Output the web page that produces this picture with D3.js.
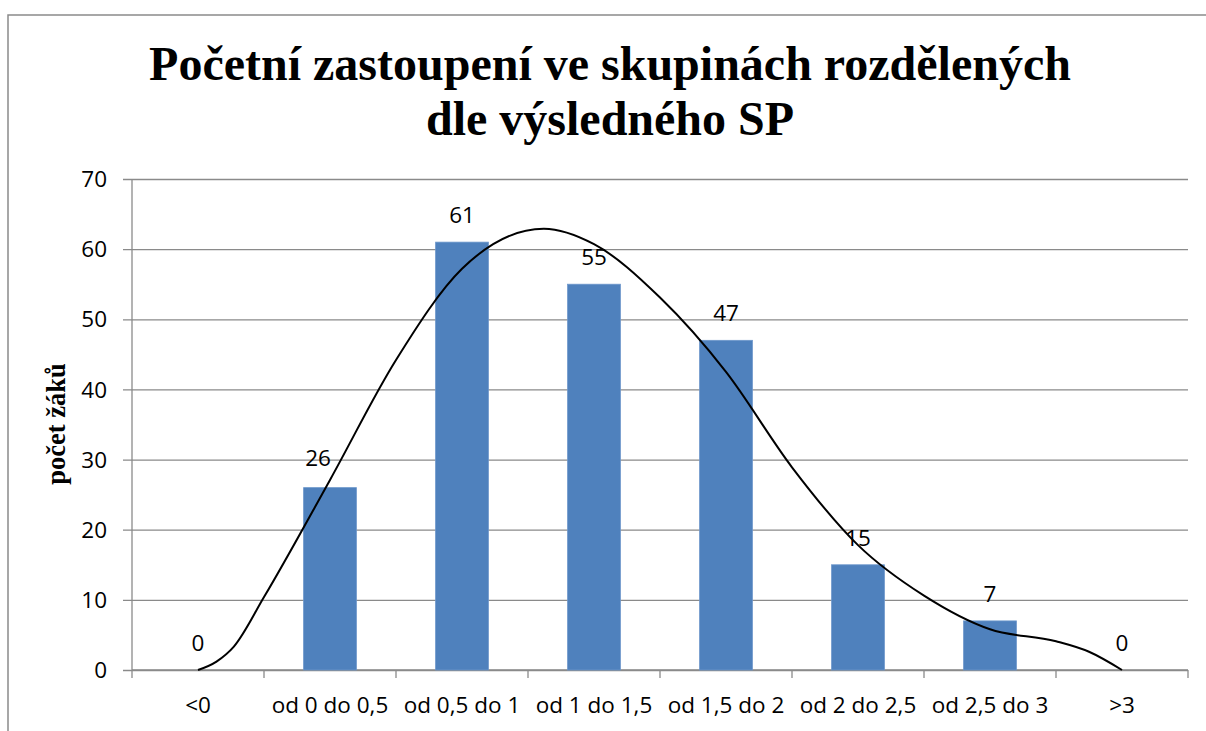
<!DOCTYPE html>
<html>
<head>
<meta charset="utf-8">
<script src="https://cdn.jsdelivr.net/npm/d3@7"></script>
<style>
  html, body { margin: 0; padding: 0; background: #fff; }
  svg { display: block; }
</style>
</head>
<body>
<svg id="chart" width="1206" height="731"></svg>
<script>
// ---- data ----
const categories = ["<0", "od 0 do 0,5", "od 0,5 do 1", "od 1 do 1,5", "od 1,5 do 2", "od 2 do 2,5", "od 2,5 do 3", ">3"];
const counts = [0, 26, 61, 55, 47, 15, 7, 0];
const yTicks = [0, 10, 20, 30, 40, 50, 60, 70];
// smooth curve: position in category units (0 = first category centre) and value
const curvePos = [0, 0.14, 0.27, 0.5, 1, 1.5, 2, 2.62, 3, 3.5, 4, 4.5, 5, 5.5, 6, 6.5, 6.75, 7];
const curveVal = [0, 1.2, 3.3, 10.4, 27.1, 44.2, 57.2, 62.9, 60.7, 53.1, 42.5, 28.9, 17.8, 10.6, 5.8, 4.1, 2.6, 0];
const titleLines = ["Početní zastoupení ve skupinách rozdělených", "dle výsledného SP"];
const yTitle = "počet žáků";

// ---- layout ----
const svg = d3.select("#chart");
const plot = { left: 132, right: 1188, top: 179, bottom: 670 };
const gridColor = "#8a8a8a";
const labelFont = "'Open Sans', sans-serif";

// chart frame
svg.append("rect")
  .attr("x", 8).attr("y", 15)
  .attr("width", 1220).attr("height", 740)
  .attr("fill", "none").attr("stroke", "#8a8a8a").attr("stroke-width", 1.5);

const x = d3.scaleBand().domain(categories).range([plot.left, plot.right])
  .paddingInner(0.6).paddingOuter(0.3);
const y = d3.scaleLinear().domain([0, 70]).range([plot.bottom, plot.top]);
const xc = d3.scaleLinear().domain([0, categories.length - 1])
  .range([x(categories[0]) + x.bandwidth() / 2, x(categories[categories.length - 1]) + x.bandwidth() / 2]);

// title
svg.append("text")
  .attr("x", 610).attr("y", 80)
  .attr("text-anchor", "middle")
  .style("font-family", "'Liberation Serif', 'Times New Roman', serif")
  .style("font-weight", "bold").style("font-size", "48px")
  .selectAll("tspan").data(titleLines).join("tspan")
  .attr("x", 610).attr("y", (d, i) => 80 + i * 55)
  .text(d => d);

// y gridlines + axis
const yAxis = d3.axisLeft(y).tickValues(yTicks).tickSize(-(plot.right - plot.left)).tickPadding(16)
  .tickFormat(d3.format("d"));
const gy = svg.append("g").attr("transform", `translate(${plot.left},0)`).call(yAxis);
gy.select(".domain").remove();
gy.selectAll(".tick line").attr("stroke", gridColor).attr("stroke-width", 1.3).attr("x1", -9);
gy.selectAll(".tick text")
  .style("font-family", labelFont).style("font-size", "22.5px").attr("fill", "#000")
  .attr("x", -25).attr("dy", "0.34em");

// y axis line
svg.append("line")
  .attr("x1", plot.left).attr("x2", plot.left)
  .attr("y1", plot.top).attr("y2", plot.bottom)
  .attr("stroke", gridColor).attr("stroke-width", 1.3);

// x axis with ticks at category boundaries
const boundaries = d3.range(categories.length + 1).map(i => plot.left + i * x.step());
svg.append("line")
  .attr("x1", plot.left).attr("x2", plot.right)
  .attr("y1", plot.bottom).attr("y2", plot.bottom)
  .attr("stroke", gridColor).attr("stroke-width", 1.3);
svg.append("g").selectAll("line").data(boundaries).join("line")
  .attr("x1", d => d).attr("x2", d => d)
  .attr("y1", plot.bottom).attr("y2", plot.bottom + 8)
  .attr("stroke", gridColor).attr("stroke-width", 1.3);
svg.append("g").selectAll("text").data(categories).join("text")
  .attr("x", d => x(d) + x.bandwidth() / 2)
  .attr("y", 713)
  .attr("text-anchor", "middle")
  .style("font-family", labelFont).style("font-size", "22.5px")
  .text(d => d);

// y title
svg.append("text")
  .attr("transform", "translate(65,424) rotate(-90)")
  .attr("text-anchor", "middle")
  .style("font-family", "'Liberation Serif', 'Times New Roman', serif")
  .style("font-weight", "bold").style("font-size", "26.5px")
  .text(yTitle);

// bars
svg.append("g").selectAll("rect").data(counts).join("rect")
  .attr("x", (d, i) => x(categories[i]))
  .attr("width", x.bandwidth())
  .attr("y", d => y(d))
  .attr("height", d => y(0) - y(d))
  .attr("fill", "#4F81BD")
  .attr("stroke", "#6d97cb").attr("stroke-width", 0.8);

// data labels (second label was nudged left in the original)
const labelNudge = (i) => i === 1 ? [-12, -3] : [0, 0];
svg.append("g").selectAll("text").data(counts).join("text")
  .attr("x", (d, i) => x(categories[i]) + x.bandwidth() / 2 + labelNudge(i)[0])
  .attr("y", d => y(d) - 19)
  .attr("dy", (d, i) => labelNudge(i)[1])
  .attr("text-anchor", "middle")
  .style("font-family", labelFont).style("font-size", "22.5px")
  .text(d => d);

// smooth curve
const curveData = curvePos.map((p, i) => [p, curveVal[i]]);
svg.append("path")
  .datum(curveData)
  .attr("d", d3.line().x(d => xc(d[0])).y(d => y(d[1])).curve(d3.curveMonotoneX))
  .attr("fill", "none").attr("stroke", "#000").attr("stroke-width", 2);
</script>
</body>
</html>
